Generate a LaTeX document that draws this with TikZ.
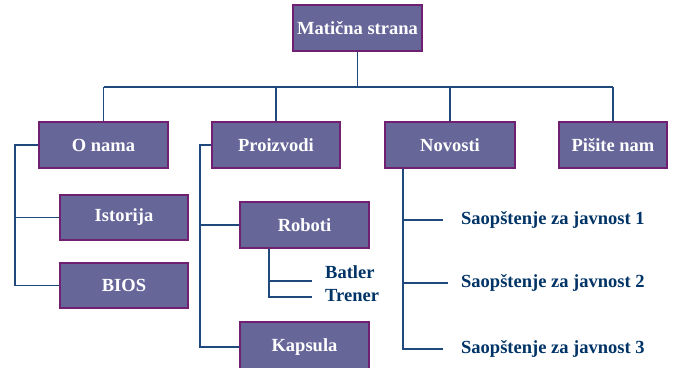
\documentclass[tikz,border=0pt]{standalone}
\usepackage{fontspec}
\setmainfont{Liberation Serif}
\usepackage{tikz}
\usepackage{xcolor}
\usetikzlibrary{calc}
\definecolor{boxfill}{RGB}{102,102,153}
\definecolor{boxline}{RGB}{112,32,112}
\definecolor{linkblue}{RGB}{31,73,125}
\definecolor{labnavy}{RGB}{0,51,102}
\begin{document}
\begin{tikzpicture}[x=1pt,y=-1pt,
  pagebox/.style={draw=boxline, line width=1.1pt, fill=boxfill, text=white,
    minimum height=46pt, inner sep=0pt,
    font=\fontsize{18.5}{21}\selectfont\bfseries},
  link/.style={draw=linkblue, line width=1.1pt},
  sublabel/.style={anchor=west, text=labnavy, inner sep=0pt,
    font=\fontsize{18.5}{21}\selectfont\bfseries}]
\useasboundingbox (0,0) rectangle (677,367);
% boxes
\node (top) at (357.5,28) [pagebox, minimum width=129pt]{Matična strana};
\node (onama) at (103.5,145) [pagebox, minimum width=129pt]{O nama};
\node (proizvodi) at (276,145) [pagebox, minimum width=128pt]{Proizvodi};
\node (novosti) at (450,145) [pagebox, minimum width=130pt]{Novosti};
\node (pisite) at (613,145) [pagebox, minimum width=108pt]{Pišite nam};
\node (istorija) at (124,217.5) [pagebox, minimum width=128pt, minimum height=45pt]{Istorija};
\node (bios) at (124,285.5) [pagebox, minimum width=128pt, minimum height=45pt]{BIOS};
\node (roboti) at (304.5,225) [pagebox, minimum width=129pt]{Roboti};
\node (kapsula) at (304.5,347) [pagebox, minimum width=129pt, minimum height=50pt]{Kapsula};
% plain labels
\node (batler) at (325,272) [sublabel]{Batler};
\node (trener) at (325,296) [sublabel]{Trener};
\foreach \n/\y in {1/220,2/283,3/349}{
\node (s\n) at (461,\y) [sublabel]{Saopštenje za javnost \n};}
% helper points
\coordinate (bus) at (0,87);
\coordinate (ol) at (15,0);
\coordinate (pl) at (200,0);
\coordinate (rl) at (269,0);
\coordinate (nl) at (403,0);
\coordinate (b1) at (312,281);
\coordinate (b2) at (312,297);
\foreach \n/\x in {1/443,2/448,3/443}{
\coordinate (e\n) at (\x,0);}
% lines
\draw[link] (top.south) -- (top |- bus);
\draw[link] (onama |- bus) -- (pisite |- bus);
\foreach \b in {onama,proizvodi,novosti,pisite}{
\draw[link] (\b |- bus) -- (\b.north);}
\draw[link] (onama.west) -| (ol |- bios) -- (bios.west);
\draw[link] (ol |- istorija) -- (istorija.west);
\draw[link] (proizvodi.west) -| (pl |- kapsula) -- (kapsula.west);
\draw[link] (pl |- roboti) -- (roboti.west);
\draw[link] (rl |- roboti.south) |- (b2);
\draw[link] (rl |- b1) -- (b1);
\draw[link] (nl |- novosti.south) |- (e3 |- s3);
\foreach \n in {1,2}{
\draw[link] (nl |- s\n) -- (e\n |- s\n);}
\end{tikzpicture}
\end{document}
